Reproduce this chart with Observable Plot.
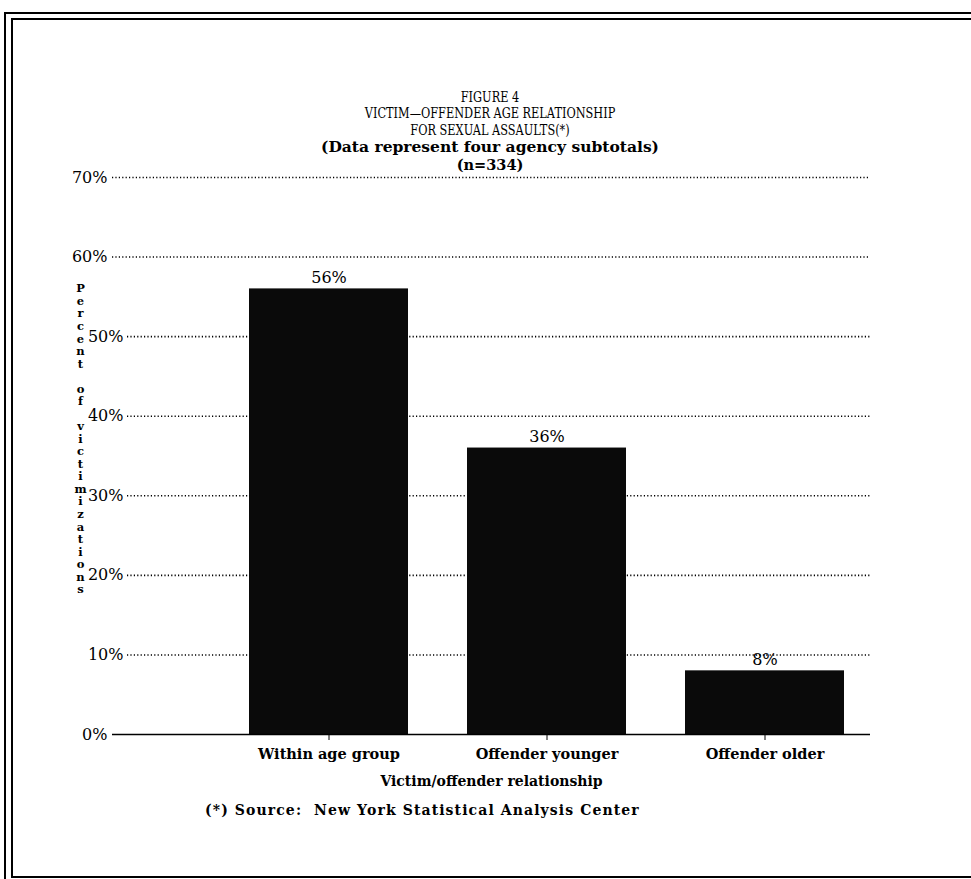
<!DOCTYPE html>
<html>
<head>
<meta charset="utf-8">
<script src="https://cdn.jsdelivr.net/npm/d3@7"></script>
<script src="https://cdn.jsdelivr.net/npm/@observablehq/plot@0.6"></script>
<style>
  html, body { margin: 0; padding: 0; background: #fff; }
  #page { position: relative; width: 971px; height: 879px; overflow: hidden; background: #fff; }
  .ln { position: absolute; background: #000; }
  .t { position: absolute; left: 0; width: 980px; text-align: center; color: #000; white-space: pre; }
  .serif { font-family: "DejaVu Serif", serif; font-size: 14.5px; line-height: 14.5px; transform: scaleX(0.78); transform-origin: 490px 0; }
  .slab { font-family: "DejaVu Serif", serif; font-weight: bold; font-size: 15.5px; line-height: 15.5px; }
  #plot { position: absolute; left: 0; top: 0; }
  #source { position: absolute; left: 205px; top: 802px; font-family: "DejaVu Serif", serif; font-weight: bold; font-size: 14px; letter-spacing: 1.1px; white-space: pre; }
</style>
</head>
<body>
<div id="page">
  <div class="ln" style="left:4px;top:12px;width:967px;height:2px"></div>
  <div class="ln" style="left:11px;top:18px;width:960px;height:2px"></div>
  <div class="ln" style="left:4px;top:12px;width:2px;height:867px"></div>
  <div class="ln" style="left:11px;top:18px;width:2px;height:860px"></div>
  <div class="ln" style="left:11px;top:876px;width:960px;height:2px"></div>
  <div id="plot"></div>
  <div class="t serif" style="top:90px">FIGURE 4</div>
  <div class="t serif" style="top:106px">VICTIM—OFFENDER AGE RELATIONSHIP</div>
  <div class="t serif" style="top:123px">FOR SEXUAL ASSAULTS(*)</div>
  <div class="t slab" style="top:139px">(Data represent four agency subtotals)</div>
  <div class="t slab" style="top:158px;font-size:14.5px;line-height:14.5px">(n=334)</div>
  <div id="source">(*) Source:  New York Statistical Analysis Center</div>
</div>
<script>
const categories = ["Within age group", "Offender younger", "Offender older"];
const values = [56, 36, 8];
const yTicks = [0, 10, 20, 30, 40, 50, 60, 70];
const yTicksOuter = [0, 60, 70];
const yTicksInner = [10, 20, 30, 40, 50];
const yLabel = "Percent of victimizations";
const xLabel = "Victim/offender relationship";

const data = categories.map((c, i) => ({cat: c, value: values[i]}));
const stacked = yLabel.split("").join("\n");
const pct = d => d + "%";

const chart = Plot.plot({
  width: 971,
  height: 879,
  marginTop: 177,
  marginBottom: 145,
  marginLeft: 112,
  marginRight: 101,
  style: {fontFamily: "DejaVu Serif", fontSize: "15px", background: "transparent", color: "#000"},
  x: {domain: categories, range: [219, 875], paddingInner: 0.27, paddingOuter: 0.135},
  y: {domain: [0, 70], ticks: yTicks, tickFormat: pct},
  marks: [
    Plot.ruleY([60, 70], {stroke: "#000", strokeWidth: 1.6, strokeDasharray: "1.2,2.2"}),
    Plot.ruleY(yTicksInner, {stroke: "#000", strokeWidth: 1.6, strokeDasharray: "1.2,2.2", insetLeft: 15}),
    Plot.barY(data, {x: "cat", y: "value", fill: "#0a0a0a"}),
    Plot.ruleY([0], {stroke: "#000", strokeWidth: 1.5}),
    Plot.text(data, {x: "cat", y: "value", text: d => pct(d.value), dy: -11, fontSize: 16, fill: "#000"}),
    Plot.axisX({tickSize: 6, tickPadding: 8, fontSize: 14.5, fontWeight: "bold", letterSpacing: 0.8, label: null}),
    Plot.text([xLabel], {frameAnchor: "bottom", dy: 51, fontSize: 14, fontWeight: "bold", letterSpacing: 0.3, fill: "#000"}),
    Plot.axisY({ticks: yTicksOuter, tickFormat: pct, tickSize: 0, tickPadding: 5, fontSize: 16, label: null}),
    Plot.axisY({ticks: yTicksInner, tickFormat: pct, tickSize: 0, tickPadding: 5, fontSize: 16, dx: 16, label: null}),
    Plot.text([stacked], {frameAnchor: "top-left", dx: -32, dy: 106, lineAnchor: "top", lineHeight: 1.09, fontSize: 11.5, fontWeight: "bold", textAnchor: "middle", fill: "#000"})
  ]
});
document.getElementById("plot").appendChild(chart);
</script>
</body>
</html>
